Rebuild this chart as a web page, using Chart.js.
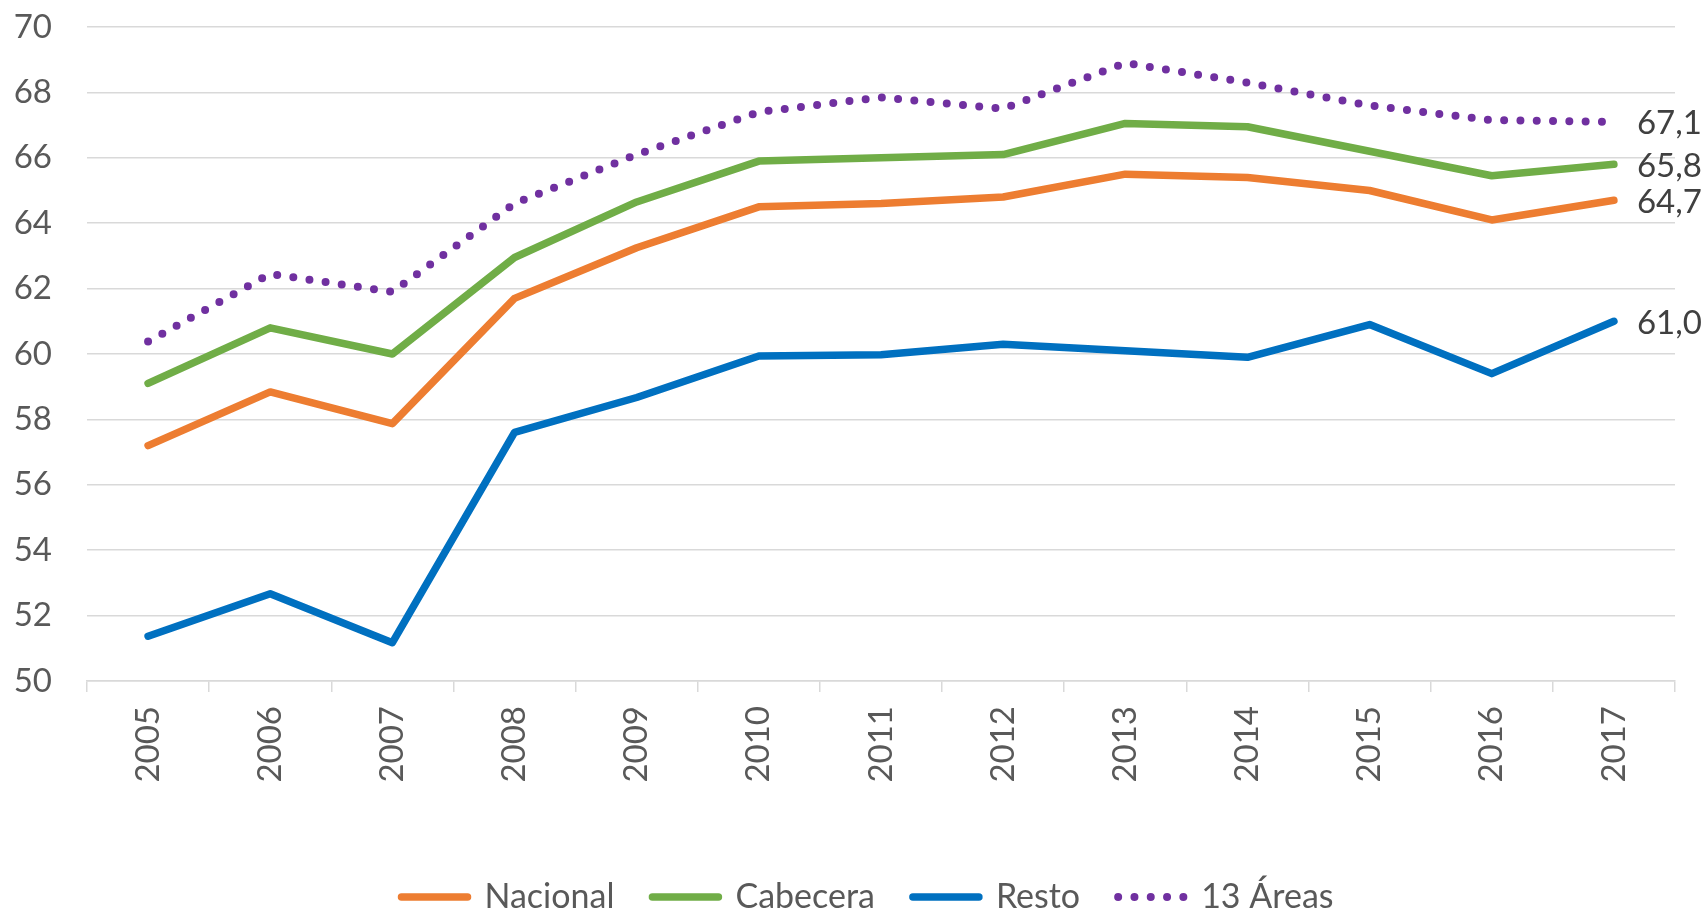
<!DOCTYPE html>
<html>
<head>
<meta charset="utf-8">
<script src="https://cdn.jsdelivr.net/npm/chart.js@4.4.1/dist/chart.umd.min.js"></script>
<style>
  html, body { margin: 0; padding: 0; background: #ffffff; }
  #wrap { width: 1708px; height: 910px; }
</style>
</head>
<body>
<div id="wrap"><canvas id="c" width="1708" height="910"></canvas></div>
<script>
const years = ['2005','2006','2007','2008','2009','2010','2011','2012','2013','2014','2015','2016','2017'];
const nacional = [57.2, 58.84, 57.87, 61.7, 63.25, 64.5, 64.6, 64.8, 65.5, 65.4, 65.0, 64.1, 64.7];
const cabecera = [59.1, 60.8, 60.0, 62.95, 64.65, 65.9, 66.0, 66.1, 67.05, 66.95, 66.2, 65.45, 65.8];
const resto = [51.37, 52.67, 51.17, 57.6, 58.67, 59.94, 59.98, 60.3, 60.1, 59.9, 60.9, 59.4, 61.0];
const areas13 = [60.38, 62.45, 61.9, 64.6, 66.1, 67.4, 67.85, 67.5, 68.9, 68.3, 67.6, 67.15, 67.1];
const yTicks = [50, 52, 54, 56, 58, 60, 62, 64, 66, 68, 70];

const FONT = 'Lato, "Noto Sans", sans-serif';
const FS = 33;
const LFS = 34;
const TEXT = '#595959';
const GRID = '#D9D9D9';

const endLabels = {
  id: 'endLabels',
  afterDatasetsDraw(chart) {
    const ctx = chart.ctx;
    ctx.save();
    ctx.font = FS + 'px ' + FONT;
    ctx.fillStyle = '#404040';
    ctx.textAlign = 'left';
    ctx.textBaseline = 'middle';
    chart.data.datasets.forEach((ds, i) => {
      const meta = chart.getDatasetMeta(i);
      const n = ds.data.length - 1;
      const pt = meta.data[n];
      if (!pt) return;
      const txt = ds.data[n].toFixed(1).replace('.', ',');
      ctx.fillText(txt, pt.x + 23, pt.y + 2);
    });
    ctx.restore();
  }
};

const legendShift = {
  id: 'legendShift',
  afterLayout(chart) {
    if (chart.legend) {
      chart.legend.top += 14;
      chart.legend.bottom += 14;
      chart.legend.left += 30;
      chart.legend.right += 30;
    }
  }
};

const common = { fill: false, tension: 0, pointRadius: 0, pointHoverRadius: 0, borderWidth: 7.5, borderCapStyle: 'round', borderJoinStyle: 'round' };

new Chart(document.getElementById('c'), {
  type: 'line',
  data: {
    labels: years,
    datasets: [
      Object.assign({ label: 'Nacional', data: nacional, borderColor: '#ED7D31', backgroundColor: '#ED7D31' }, common),
      Object.assign({ label: 'Cabecera', data: cabecera, borderColor: '#70AD47', backgroundColor: '#70AD47' }, common),
      Object.assign({ label: 'Resto', data: resto, borderColor: '#0070C0', backgroundColor: '#0070C0' }, common),
      Object.assign({}, common, { label: '13 Áreas', data: areas13, borderColor: '#7030A0', backgroundColor: '#7030A0', borderDash: [0, 16.3], borderWidth: 8 })
    ]
  },
  options: {
    responsive: false,
    animation: false,
    devicePixelRatio: 1,
    layout: { padding: { left: 0, right: 33, top: 27, bottom: 0 } },
    plugins: {
      tooltip: { enabled: false },
      legend: {
        position: 'bottom',
        labels: {
          usePointStyle: true,
          pointStyle: 'line',
          pointStyleWidth: 66,
          padding: 38,
          color: TEXT,
          font: { family: FONT, size: LFS },
          generateLabels(chart) {
            const items = Chart.defaults.plugins.legend.labels.generateLabels(chart);
            items.forEach(it => {
              const ds = chart.data.datasets[it.datasetIndex];
              it.lineDash = ds.borderDash || [];
              it.lineCap = 'round';
              it.lineWidth = ds.borderWidth;
              it.strokeStyle = ds.borderColor;
            });
            return items;
          }
        }
      }
    },
    scales: {
      x: {
        type: 'category',
        offset: true,
        grid: { display: true, drawOnChartArea: false, drawTicks: true, tickLength: 11, color: GRID, lineWidth: 1.5, offset: true },
        border: { display: true, color: GRID, width: 1.5 },
        ticks: { color: TEXT, font: { family: FONT, size: FS }, minRotation: 90, maxRotation: 90, padding: 14, autoSkip: false },
        afterFit(scale) { scale.height = 147; }
      },
      y: {
        min: 50,
        max: 70,
        afterBuildTicks(scale) { scale.ticks = yTicks.map(v => ({ value: v })); },
        grid: { color: GRID, lineWidth: 1.5, drawTicks: true, tickLength: 35, tickColor: 'rgba(0,0,0,0)' },
        border: { display: false },
        ticks: { color: TEXT, font: { family: FONT, size: FS }, padding: 0 },
        afterFit(scale) { scale.width = 87; }
      }
    }
  },
  plugins: [endLabels, legendShift]
});
</script>
</body>
</html>
